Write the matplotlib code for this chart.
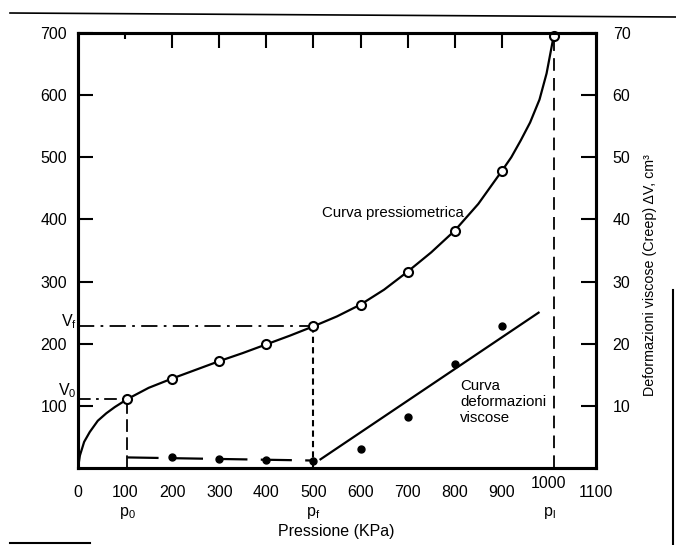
import matplotlib.pyplot as plt
from matplotlib.lines import Line2D
from matplotlib.transforms import blended_transform_factory

plt.rcParams['font.family'] = ['Liberation Sans', 'DejaVu Sans']
plt.rcParams['font.size'] = 11.5

# pressiometric test readings (pressure KPa, volume)
press_x = [105, 200, 300, 400, 500, 600, 700, 800, 900, 1010]
press_v = [111, 144, 172, 199, 228, 263, 316, 382, 478, 695]

# traced pressiometric curve
curve_x = [0, 4, 13, 25, 42, 60, 78, 105, 150, 200, 250, 300, 350, 400, 450,
           500, 550, 600, 650, 700, 750, 800, 850, 900, 920, 940, 960, 980, 995, 1010]
curve_v = [0, 20, 42, 58, 76, 88, 98, 111, 129, 144, 158, 172, 185, 199, 213,
           228, 244, 263, 287, 316, 347, 382, 425, 478, 500, 527, 556, 593, 635, 695]

# creep readings (right axis, cm3)
creep_x = [200, 300, 400, 500, 600, 700, 800, 900]
creep_v = [1.8, 1.4, 1.3, 1.2, 3.0, 8.2, 16.7, 22.8]

# creep trend lines
flat_x = [105, 500]
flat_v = [1.7, 1.2]
slope_x = [515, 978]
slope_v = [1.4, 25.0]

# characteristic pressures / volumes
p0, V0 = 105, 111
pf, Vf = 500, 228
pl = 1010

x_ticks = [0, 100, 200, 300, 400, 500, 600, 700, 800, 900, 1000, 1100]
y_ticks = [100, 200, 300, 400, 500, 600, 700]
y2_ticks = [10, 20, 30, 40, 50, 60, 70]

fig = plt.figure(figsize=(6.76, 5.45), dpi=100)
ax = fig.add_axes([0.1154, 0.1413, 0.7663, 0.7981])
ax.set_xlim(0, 1100)
ax.set_ylim(0, 700)
for s in ax.spines.values():
    s.set_linewidth(2.2)

# main curve with open circles
ax.plot(curve_x, curve_v, color='black', lw=1.6, zorder=3)
ax.plot(press_x, press_v, 'o', ms=6.5, mfc='white', mec='black', mew=1.5, zorder=4,
        clip_on=False)

# construction lines
ax.plot([0, p0], [V0, V0], color='black', lw=1.3, dashes=(7, 3, 1.5, 3))
ax.plot([p0, p0], [0, V0], color='black', lw=1.3, dashes=(7, 3))
ax.plot([0, pf], [Vf, Vf], color='black', lw=1.3, dashes=(9, 3.5, 1.5, 3.5))
ax.plot([pf, pf], [0, Vf], color='black', lw=1.5, dashes=(3, 2))
ax.plot([pl, pl], [0, 700], color='black', lw=1.3, dashes=(7, 4))

ax.set_xticks(x_ticks)
ax.set_xticklabels([str(t) if t != 1000 else '' for t in x_ticks])
ax.set_xticks(x_ticks[1:10], minor=True)
ax.tick_params(axis='x', which='major', length=0, pad=12)
ax.tick_params(axis='x', which='minor', direction='in', length=7, width=1.5)
ax.text(1000, -0.018, '1000', transform=ax.get_xaxis_transform(),
        ha='center', va='top')

ax.set_yticks(y_ticks)
ax.tick_params(axis='y', direction='in', length=11, width=1.5, pad=8)

top = ax.secondary_xaxis('top')
top.set_xticks([200, 300, 400, 500, 600, 700, 800, 900])
top.tick_params(direction='in', length=11, width=1.5, labeltop=False)
top.set_xticks([100], minor=True)
top.tick_params(which='minor', direction='in', length=4, width=1.5)
top.spines['top'].set_visible(False)

# creep on the right axis
ax2 = ax.twinx()
ax2.set_ylim(0, 70)
ax2.set_yticks(y2_ticks)
ax2.tick_params(axis='y', direction='in', length=11, width=1.5, pad=12)
for s in ax2.spines.values():
    s.set_linewidth(2.2)
ax2.plot(flat_x, flat_v, color='black', lw=1.6, dashes=(14, 6))
ax2.plot(slope_x, slope_v, color='black', lw=1.6)
ax2.plot(creep_x, creep_v, 'o', ms=5, color='black', zorder=4)

ax2.text(1.104, 0.444, 'Deformazioni viscose (Creep) ΔV, cm³', rotation=90,
         transform=ax2.transAxes, ha='center', va='center', fontsize=10.3)

# annotations
ax.text(518, 410, 'Curva pressiometrica', ha='left', va='center', fontsize=10.8)
ax2.text(811, 10.6, 'Curva\ndeformazioni\nviscose', ha='left', va='center',
         linespacing=1.15, fontsize=10.8)

ylab = blended_transform_factory(ax.transAxes, ax.transData)
ax.text(-0.002, 124, r'$\mathregular{V_0}$', transform=ylab, ha='right', va='center')
ax.text(-0.002, 236, r'$\mathregular{V_f}$', transform=ylab, ha='right', va='center')

xlab = ax.get_xaxis_transform()
ax.text(p0, -0.103, r'$\mathregular{p_0}$', transform=xlab, ha='center', va='center')
ax.text(pf, -0.103, r'$\mathregular{p_f}$', transform=xlab, ha='center', va='center')
ax.text(pl - 10, -0.103, r'$\mathregular{p_l}$', transform=xlab, ha='center', va='center')
ax.text(548 / 1100, -0.145, 'Pressione (KPa)', transform=ax.transAxes,
        ha='center', va='center')

# page rules
fig.add_artist(Line2D([10 / 676, 1.0], [1 - 13 / 545, 1 - 17 / 545], color='black', lw=1.2))
fig.add_artist(Line2D([10 / 676, 90 / 676], [2 / 545, 2 / 545], color='black', lw=1.5))
fig.add_artist(Line2D([673 / 676, 673 / 676], [0, 1 - 290 / 545], color='black', lw=1.5))

fig.savefig('out.png', dpi=100)
